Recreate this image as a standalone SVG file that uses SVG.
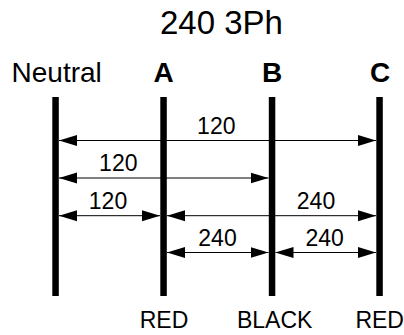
<svg xmlns="http://www.w3.org/2000/svg" width="404" height="335" viewBox="0 0 404 335">
<defs>
<style>
text{font-family:"Liberation Sans",Arial,sans-serif;fill:#000;text-anchor:middle}
.bar{fill:#000}
.dim{stroke:#000;stroke-width:1;fill:none;marker-start:url(#ah);marker-end:url(#ah)}
.t{font-size:23px}
.h{font-size:28px}
.b{font-weight:bold}
</style>
<marker id="ah" markerUnits="userSpaceOnUse" markerWidth="18" markerHeight="12" refX="18" refY="5.5" orient="auto-start-reverse" viewBox="0 0 18 11">
<path d="M0,0 L18,5.5 L0,11 z" fill="#000"/>
</marker>
</defs>
<rect width="404" height="335" fill="#fff"/>
<text x="221.5" y="33.5" style="font-size:33px">240 3Ph</text>
<g id="neutral">
<text class="h" x="56.7" y="81.7">Neutral</text>
<rect class="bar" x="52.3" y="97" width="6.5" height="199"/>
</g>
<g id="phaseA">
<text class="h b" x="163.5" y="81.7">A</text>
<rect class="bar" x="160.3" y="97" width="6.5" height="199"/>
<text class="t" x="164" y="327.7">RED</text>
</g>
<g id="phaseB">
<text class="h b" x="272" y="81.7">B</text>
<rect class="bar" x="268.8" y="97" width="6.5" height="199"/>
<text class="t" x="274.7" y="327.7">BLACK</text>
</g>
<g id="phaseC">
<text class="h b" x="380" y="81.7">C</text>
<rect class="bar" x="376.3" y="97" width="6.5" height="199"/>
<text class="t" x="379.7" y="327.7">RED</text>
</g>
<g id="connectors">
<line class="dim" x1="59" y1="140.5" x2="376" y2="140.5"/>
<text class="t" x="216.3" y="134">120</text>
<line class="dim" x1="59" y1="178" x2="268.5" y2="178"/>
<text class="t" x="118.3" y="171">120</text>
<line class="dim" x1="59" y1="215.7" x2="160" y2="215.7"/>
<text class="t" x="108" y="209.3">120</text>
<line class="dim" x1="167" y1="215.7" x2="376" y2="215.7"/>
<text class="t" x="316" y="209.3">240</text>
<line class="dim" x1="167" y1="252.5" x2="268.5" y2="252.5"/>
<text class="t" x="217.5" y="246">240</text>
<line class="dim" x1="275.5" y1="252.5" x2="376" y2="252.5"/>
<text class="t" x="324.7" y="246">240</text>
</g>
</svg>
